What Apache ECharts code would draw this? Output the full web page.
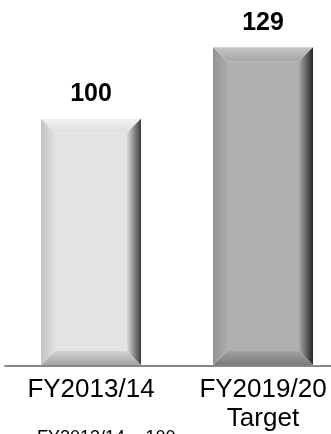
<!DOCTYPE html>
<html>
<head>
<meta charset="utf-8">
<script src="https://cdn.jsdelivr.net/npm/echarts@6/dist/echarts.min.js"></script>
<style>
html,body{margin:0;padding:0;background:#fff;}
#c{width:331px;height:434px;}
</style>
</head>
<body>
<div id="c"></div>
<script>
const categories = ['FY2013/14', 'FY2019/20\nTarget'];
const values = [100, 129];
const footnote = 'FY2013/14 = 100';

const palettes = [
  {face:'#e4e4e4', topA:'#f2f2f2', topB:'#dddddd', leftA:'#c4c4c4', leftB:'#e0e0e0', rightA:'#dadada', rightB:'#3c3c3c', botA:'#d2d2d2', botB:'#a4a4a4'},
  {face:'#b0b0b0', topA:'#c6c6c6', topB:'#a6a6a6', leftA:'#929292', leftB:'#acacac', rightA:'#a8a8a8', rightB:'#262626', botA:'#a2a2a2', botB:'#7a7a7a'}
];
const FONT = 'Liberation Sans, Arial, sans-serif';

const chart = echarts.init(document.getElementById('c'));
function lg(x, y, x2, y2, a, b) {
  return new echarts.graphic.LinearGradient(x, y, x2, y2, [{offset:0,color:a},{offset:1,color:b}]);
}
chart.setOption({
  animation: false,
  title: {text: footnote, left: 37, top: 429, padding: 0,
    textStyle: {fontFamily: FONT, fontSize: 18, fontWeight: 'normal', color: '#000'}},
  grid: {left: 5, top: 20, width: 344, height: 346, outerBoundsMode: 'none', containLabel: false},
  xAxis: {
    type: 'category', data: categories,
    axisLine: {lineStyle: {color: '#888', width: 2}},
    axisTick: {show: false},
    axisLabel: {interval: 0, hideOverlap: false, fontFamily: FONT, fontSize: 26, color: '#000', margin: 9, lineHeight: 29}
  },
  yAxis: {type: 'value', min: 0, max: 140, show: false, splitLine: {show: false}},
  series: [{
    type: 'custom',
    data: values.map((v, i) => [i, v]),
    renderItem: function (params, api) {
      const i = api.value(0), v = api.value(1);
      const p = api.coord([i, v]);
      const b = api.coord([i, 0]);
      const w = 100, e = 14;
      const l = p[0] - w / 2, r = p[0] + w / 2, t = p[1], bo = b[1] - 1;
      const c = palettes[params.dataIndex];
      return {
        type: 'group',
        children: [
          {type: 'rect', shape: {x: l + e, y: t + e, width: w - 2 * e, height: bo - t - 2 * e}, style: {fill: c.face}},
          {type: 'polygon', shape: {points: [[l, t], [r, t], [r - e, t + e], [l + e, t + e]]}, style: {fill: lg(0, 0, 0, 1, c.topA, c.topB)}},
          {type: 'polygon', shape: {points: [[l, bo], [r, bo], [r - e, bo - e], [l + e, bo - e]]}, style: {fill: lg(0, 0, 0, 1, c.botA, c.botB)}},
          {type: 'polygon', shape: {points: [[l, t], [l + e, t + e], [l + e, bo - e], [l, bo]]}, style: {fill: lg(0, 0, 1, 0, c.leftA, c.leftB)}},
          {type: 'polygon', shape: {points: [[r, t], [r - e, t + e], [r - e, bo - e], [r, bo]]}, style: {fill: lg(0, 0, 1, 0, c.rightA, c.rightB)}},
          {type: 'text', style: {text: String(v), x: p[0], y: t - 12, align: 'center', verticalAlign: 'bottom',
            fontFamily: FONT, fontSize: 25, fontWeight: 'bold', fill: '#000'}}
        ]
      };
    }
  }]
});
</script>
</body>
</html>
